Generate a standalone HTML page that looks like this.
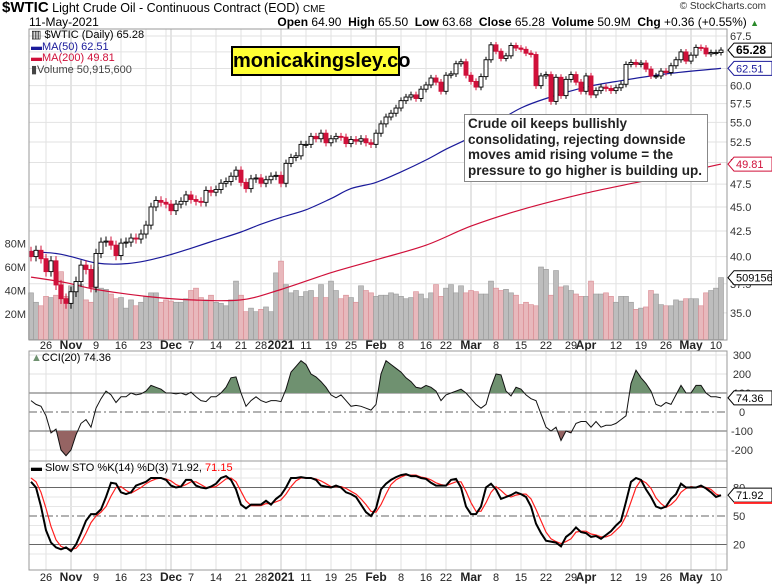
<!DOCTYPE html>
<html><head><meta charset="utf-8">
<style>
html,body{margin:0;padding:0;background:#fff;}
body{width:772px;height:587px;position:relative;overflow:hidden;font-family:"Liberation Sans",Arial,sans-serif;}
svg{position:absolute;left:0;top:0;}
</style></head>
<body>
<svg id="chart" width="772" height="587" viewBox="0 0 772 587"></svg>
<script>
// ---- data ----
const closes=[40.0,40.6,39.8,38.6,39.6,37.4,36.2,35.8,
36.8,37.7,39.2,38.8,37.2, 40.3,41.4,41.5,41.1,40.1, 41.3,41.4,41.8,41.7,42.2, 43.1,45.0,45.7,45.5,
45.3,44.6,45.3,45.6,46.3, 45.8,45.6,45.5,46.8,46.6, 46.9,47.6,47.8,48.4,49.1, 47.7,47.0,48.1,48.2, 47.6,48.0,48.4,48.5,
47.6,49.9,50.6,50.8,52.2, 52.2,53.2,52.9,53.6,52.4, 52.9,53.2,53.1,52.3, 52.8,52.6,52.9,52.4,52.2,
53.6,54.8,55.7,56.2,56.9, 57.9,58.4,58.7,58.2,59.5, 60.1,61.1,60.5,59.2, 61.5,61.7,63.2,63.5,61.5,
60.6,59.8,61.3,63.8,66.1, 65.1,64.0,64.4,66.0,65.6, 65.4,64.8,64.6,60.0,61.4, 61.6,57.8,61.2,58.6,60.9,
61.6,60.5,59.2,61.4, 58.7,59.3,59.8,59.6,59.3, 59.7,60.2,63.1,63.4,63.1, 63.3,62.4,61.4,61.4,62.1,
61.9,62.9,63.8,65.0,63.6, 64.5,65.7,65.6,64.7,64.9, 64.9,65.28];
const volumes=[38,30,27,35,34,36,56,35, 44,40,45,32,30, 60,42,41,37,33, 34,25,32,27,30, 35,38,38,30,
32,31,30,30,33, 40,42,34,32,36, 30,29,27,32,48, 36,22,25,22, 24,26,22,55,
65,45,38,40,35, 39,40,34,45,34, 48,40,33,36, 34,30,44,40,38,
35,36,36,38,37, 35,33,34,39,37, 33,38,45,35, 42,45,38,44,38,
40,39,37,37,48, 42,40,41,38,36, 28,30,28,27,60, 58,36,57,43,44,
40,37,35,35, 48,37,37,38,35, 30,35,35,30,24, 25,26,40,37,28,
27,27,32,31,33, 33,33,27,38,40, 42,51];
const cci=[60,40,30,-20,-110,-90,-200,-230, -200,-120,-60,-40,-80, 20,70,110,90,50, 80,80,100,90,95, 110,140,130,120,
100,100,95,100,90, 105,80,60,55,80, 80,100,130,180,185, 100,30,60,80, 60,50,60,60,
55,120,210,240,270, 250,200,185,160,130, 90,75,90,60, 30,35,30,20,10,
40,200,270,250,230, 210,180,160,130,125, 140,130,110,60, 90,100,110,120,100,
70,40,20,40,130, 200,195,110,85,130, 120,90,70,60,-10, -80,-100,-80,-150,-100,
-110,-60,-50,-50, -80,-50,-80,-70,-70, -60,-40,-20,150,220, 180,150,110,40,30,
50,40,90,140,100, 100,140,140,100,80, 80,74.36];
const stoK=[86,80,60,35,22,17,15,17, 13,20,32,45,52, 52,57,70,85,84, 75,73,75,82,84, 86,90,90,90,
88,82,80,81,88, 88,82,80,79,81, 84,90,92,88,78, 62,58,62,62, 62,66,62,68,
72,80,90,90,91, 90,90,88,82,81, 80,82,80,75, 73,70,62,54,50,
58,78,84,88,91, 93,94,92,92,90, 89,85,82,82, 82,88,89,80,60,
52,52,60,80,84, 78,68,70,72,75, 73,70,60,42,32, 24,23,22,18,28,
32,38,33,32, 28,29,26,30,34, 40,45,65,86,90, 88,78,70,60,58,
60,68,73,84,80, 80,80,82,79,75, 70,71.92];
const stoD=[90,86,75,58,39,25,18,16, 15,16,22,32,43, 50,54,60,71,80, 81,77,74,77,80, 84,87,89,90,
89,87,83,81,83, 86,86,83,80,80, 81,85,89,90,86, 76,66,61,61, 61,63,63,65,
67,73,81,87,90, 90,90,89,87,84, 81,81,81,79, 76,73,68,62,55,
54,62,73,83,88, 91,93,93,93,91, 90,88,85,83, 82,84,86,86,76,
64,55,55,64,75, 81,77,72,70,72, 73,73,68,57,45, 33,26,23,21,23,
26,33,34,34, 31,30,28,28,30, 35,40,50,65,80, 88,85,79,69,63,
59,62,67,75,79, 81,80,81,80,78, 73,71.15];
const ma50Dates=['2020-10-21','2020-10-28','2020-11-02','2020-11-09','2020-11-16','2020-11-23','2020-12-01','2020-12-07','2020-12-14','2020-12-21','2020-12-28','2021-01-04','2021-01-11','2021-01-19','2021-01-25','2021-02-01','2021-02-08','2021-02-16','2021-02-22','2021-03-01','2021-03-08','2021-03-15','2021-03-22','2021-04-01','2021-04-12','2021-04-26','2021-05-11'];
const ma50Values=[40.5,40.3,40.0,39.4,39.3,39.6,40.2,40.8,41.6,42.4,43.2,43.9,44.7,45.9,47.0,47.7,48.9,50.3,51.6,53.1,55.0,56.9,58.2,59.8,60.6,61.7,62.51];
const ma200Dates=['2020-10-21','2020-10-30','2020-11-09','2020-11-23','2020-12-07','2020-12-21','2021-01-04','2021-01-19','2021-02-01','2021-02-16','2021-03-01','2021-03-15','2021-04-01','2021-04-19','2021-05-11'];
const ma200Values=[38.1,37.6,37.0,36.4,36.1,36.1,37.0,38.5,39.7,41.1,43.0,44.7,46.5,47.8,49.81];
const priceTicks=[35,37.5,40,42.5,45,47.5,50,52.5,55,57.5,60,62.5,65,67.5];
const volTicks=[20,40,60,80];
const cciTicks=[300,200,100,0,-100,-200];
const stoTicks=[80,50,20];
const holidays=['2020-11-26','2020-12-25','2021-01-01','2021-01-18','2021-02-15','2021-04-02'];
const monthNames=['Jan','Feb','Mar','Apr','May','Jun','Jul','Aug','Sep','Oct','Nov','Dec'];

// ---- trading dates ----
const dates=[];
{let d=new Date(Date.UTC(2020,9,21));while(dates.length<closes.length){const s=d.toISOString().slice(0,10);const wd=d.getUTCDay();if(wd!==0&&wd!==6&&holidays.indexOf(s)<0)dates.push(s);d=new Date(d.getTime()+86400000);}}
const idxOf=s=>dates.indexOf(s);

// ---- axes ----
const L=29,R=727;
const px=i=>71+(i-8)*5;
const py=p=>36+(Math.log(67.5)-Math.log(p))*421.6;
const vy=v=>337.5-v*1.175;
const cy=v=>412-v*0.19;
const sy=v=>516-(v-50)*0.95;

const svg=document.getElementById('chart');
const NS='http://www.w3.org/2000/svg';
function mk(tag,attrs,parent){const e=document.createElementNS(NS,tag);for(const k in attrs)e.setAttribute(k,attrs[k]);(parent||svg).appendChild(e);return e;}
function txt(x,y,s,attrs,parent){const e=mk('text',Object.assign({x:x,y:y,'font-family':'Liberation Sans, Arial, sans-serif','font-size':11,fill:'#000'},attrs||{}),parent);e.textContent=s;return e;}
function smooth(pts){let d='M'+pts[0][0].toFixed(1)+','+pts[0][1].toFixed(1);for(let k=0;k<pts.length-1;k++){const p0=pts[Math.max(0,k-1)],p1=pts[k],p2=pts[k+1],p3=pts[Math.min(pts.length-1,k+2)];const c1x=p1[0]+(p2[0]-p0[0])/6,c1y=p1[1]+(p2[1]-p0[1])/6,c2x=p2[0]-(p3[0]-p1[0])/6,c2y=p2[1]-(p3[1]-p1[1])/6;d+=` C${c1x.toFixed(1)},${c1y.toFixed(1)} ${c2x.toFixed(1)},${c2y.toFixed(1)} ${p2[0].toFixed(1)},${p2[1].toFixed(1)}`;}return d;}

const panels=[[29,340],[351,461],[461,570]];
const tickIdx=[];const monthIdx=[];
for(let i=0;i<dates.length;i++){
  const d=new Date(dates[i]+'T00:00:00Z');
  const prev=i>0?new Date(dates[i-1]+'T00:00:00Z'):null;
  const newWeek=prev&&d.getUTCDay()<prev.getUTCDay();
  const newMonth=prev&&d.getUTCMonth()!==prev.getUTCMonth();
  if(newMonth)monthIdx.push(i);
  if(newWeek||newMonth)tickIdx.push(i);
}
tickIdx.forEach(i=>{
  const isM=monthIdx.indexOf(i)>=0;
  panels.forEach(p=>{
    const g=mk('line',{x1:px(i),x2:px(i),y1:p[0],y2:p[1],stroke:isM?'#c8c8c8':'#e2e2e2','stroke-width':1});
    
    
  });
  if(!isM&&(monthIdx.indexOf(i+1)>=0||monthIdx.indexOf(i+2)>=0||monthIdx.indexOf(i-1)>=0||monthIdx.indexOf(i-2)>=0))return;
  const d=new Date(dates[i]+'T00:00:00Z');
  let lab=isM?(d.getUTCMonth()===0?'2021':monthNames[d.getUTCMonth()]):String(d.getUTCDate());
  [349,581].forEach(yy=>{
    const t=txt(px(i),yy,lab,{'text-anchor':'middle','font-size':isM?12:11,'font-weight':isM?'bold':'normal',fill:'#222'});
    
    
  });
});
priceTicks.forEach(p=>{
  const g=mk('line',{x1:L,x2:R,y1:py(p),y2:py(p),stroke:'#e2e2e2'});
  
  
  const t=txt(730,py(p)+4,p.toFixed(1),{fill:'#333'});
  
  
});
volTicks.forEach(v=>{
  const t=txt(26,vy(v)+4,v+'M',{'text-anchor':'end',fill:'#333'});
  
  
});
[300,200,-200,-300].forEach(v=>{const g=mk('line',{x1:L,x2:R,y1:cy(v),y2:cy(v),stroke:'#e2e2e2'});});
[100,-100].forEach(v=>{const g=mk('line',{x1:L,x2:R,y1:cy(v),y2:cy(v),stroke:'#666'});});
{const g=mk('line',{x1:L,x2:R,y1:cy(0),y2:cy(0),stroke:'#666','stroke-dasharray':'8,3,2,3'});}
cciTicks.forEach(v=>{const t=txt(742,cy(v)+4,String(v),{'text-anchor':'middle',fill:'#333'});});
[10,30,40,60,70,90].forEach(v=>{const g=mk('line',{x1:L,x2:R,y1:sy(v),y2:sy(v),stroke:'#e6e6e6'});});
[80,20].forEach(v=>{const g=mk('line',{x1:L,x2:R,y1:sy(v),y2:sy(v),stroke:'#666'});});
{const g=mk('line',{x1:L,x2:R,y1:sy(50),y2:sy(50),stroke:'#666','stroke-dasharray':'8,3,2,3'});}
stoTicks.forEach(v=>{const t=txt(733,sy(v)+4,String(v),{fill:'#333'});});

for(let i=0;i<volumes.length;i++){
  const down=i>0&&closes[i]<closes[i-1];
  const b=mk('rect',{x:px(i)-2.5,y:vy(volumes[i]),width:5,height:337.5-vy(volumes[i])+2,fill:down?'#e8b8bc':'#bdbdbd',stroke:down?'#d98a92':'#9a9a9a','stroke-width':0.6});
  
  
}
function maPts(ds,vs){return ds.map((d,k)=>[px(idxOf(d)),py(vs[k])]);}
{const p=mk('path',{d:smooth(maPts(ma200Dates,ma200Values)),fill:'none',stroke:'#d0103a','stroke-width':1.2});}
{const p=mk('path',{d:smooth(maPts(ma50Dates,ma50Values)),fill:'none',stroke:'#1a1a9a','stroke-width':1.2});}
for(let i=0;i<closes.length;i++){
  const o=i>0?closes[i-1]:closes[i]+0.5;const c=closes[i];
  const hi=Math.max(o,c)+0.45,lo=Math.min(o,c)-0.45;
  const down=c<o;const col=down?'#d0103a':'#000';
  const w=mk('line',{x1:px(i),x2:px(i),y1:py(hi),y2:py(lo),stroke:col,'stroke-width':1});
  
  
  const top=py(Math.max(o,c)),bot=py(Math.min(o,c));
  const b=mk('rect',{x:px(i)-2,y:top,width:4,height:Math.max(1,bot-top),fill:down?'#d0103a':'#fff',stroke:col,'stroke-width':0.9});
  
  
}
const cciPts=cci.map((v,i)=>px(i).toFixed(1)+','+cy(v).toFixed(1));
{
  const defs=mk('defs',{});
  const c1=mk('clipPath',{id:'above'},defs);mk('rect',{x:L,y:351,width:R-L,height:cy(100)-351},c1);
  const c2=mk('clipPath',{id:'below'},defs);mk('rect',{x:L,y:cy(-100),width:R-L,height:461-cy(-100)},c2);
  const polyA='M'+px(0)+','+cy(100)+' L'+cciPts.join(' L')+' L'+px(cci.length-1)+','+cy(100)+' Z';
  const polyB='M'+px(0)+','+cy(-100)+' L'+cciPts.join(' L')+' L'+px(cci.length-1)+','+cy(-100)+' Z';
  const fa=mk('path',{d:polyA,fill:'#6f9170',stroke:'none','clip-path':'url(#above)'});
  const fb=mk('path',{d:polyB,fill:'#956463',stroke:'none','clip-path':'url(#below)'});
  const l=mk('polyline',{points:cciPts.join(' '),fill:'none',stroke:'#111','stroke-width':1});
}
{const l=mk('polyline',{points:stoD.map((v,i)=>px(i).toFixed(1)+','+sy(v).toFixed(1)).join(' '),fill:'none',stroke:'#ff2020','stroke-width':1.2});}
{const l=mk('polyline',{points:stoK.map((v,i)=>px(i).toFixed(1)+','+sy(v).toFixed(1)).join(' '),fill:'none',stroke:'#000','stroke-width':2});}

panels.forEach(p=>{const r=mk('rect',{x:L,y:p[0],width:R-L,height:p[1]-p[0],fill:'none',stroke:'#999'});});

function tag(y,label,color,bold){
  const g=mk('g',{});
  mk('path',{d:`M728,${y} L734,${y-7} L772,${y-7} L772,${y+7} L734,${y+7} Z`,fill:'#fff',stroke:color,'stroke-width':1},g);
  txt(736,y+4,label,{fill:color,'font-size':bold?12:11,'font-weight':bold?'bold':'normal'},g);
  return g;
}
{const t=tag(py(65.28),'65.28','#000',true);}
{const t=tag(py(62.51),'62.51','#1a1a9a',false);}
{const t=tag(py(49.81),'49.81','#d0103a',false);}
{const t=tag(vy(50.9),'5091560','#000',false);}
{const t=tag(cy(74.36),'74.36','#000',false);}
{const t=tag(sy(71.92),'71.92','#000',false);}
{const r=mk('rect',{x:734,y:sy(71.15)+6,width:38,height:2,fill:'#ff2020'});}
</script>

<div style="position:absolute;left:2px;top:-1px;white-space:nowrap;font-size:12.5px;">
<b style="font-size:15px;">$WTIC</b> Light Crude Oil - Continuous Contract (EOD) <span style="font-size:10px">CME</span></div>
<div style="position:absolute;left:29px;top:15px;font-size:12px;">11-May-2021</div>
<div style="position:absolute;right:13px;top:15px;font-size:12px;white-space:nowrap;"><b>Open</b> 64.90 &nbsp;<b>High</b> 65.50 &nbsp;<b>Low</b> 63.68 &nbsp;<b>Close</b> 65.28 &nbsp;<b>Volume</b> 50.9M &nbsp;<b>Chg</b> +0.36 (+0.55%) <span style="color:#2a8a2a;font-size:9px">▲</span></div>
<div style="position:absolute;right:6px;top:1px;font-size:10px;color:#333;">© StockCharts.com</div>
<div style="position:absolute;left:31px;top:30px;font-size:11px;line-height:11.5px;white-space:nowrap;">
<div>▥ $WTIC (Daily) 65.28</div>
<div style="color:#1a1a9a"><b>▬</b>MA(50) 62.51</div>
<div style="color:#d0103a"><b>▬</b>MA(200) 49.81</div>
<div style="color:#444">▮Volume 50,915,600</div>
</div>
<div style="position:absolute;left:231px;top:46px;width:165px;height:26px;background:#ffff33;border:2px solid #000;font-size:20px;font-weight:bold;text-align:center;line-height:26px;">monicakingsley.co</div>
<div style="position:absolute;left:464px;top:114px;width:236px;height:64px;padding:1px 3px;background:#fff;border:1px solid #888;font-size:13.5px;font-weight:bold;line-height:15.5px;color:#222;">Crude oil keeps bullishly consolidating, rejecting downside moves amid rising volume = the pressure to go higher is building up.</div>
<div style="position:absolute;left:31px;top:352px;font-size:11px;"><span style="color:#6f9170">▲</span>CCI(20) 74.36</div>
<div style="position:absolute;left:31px;top:462px;font-size:11px;"><b>▬</b> Slow STO %K(14) %D(3) 71.92, <span style="color:#f00">71.15</span></div>
</body></html>
